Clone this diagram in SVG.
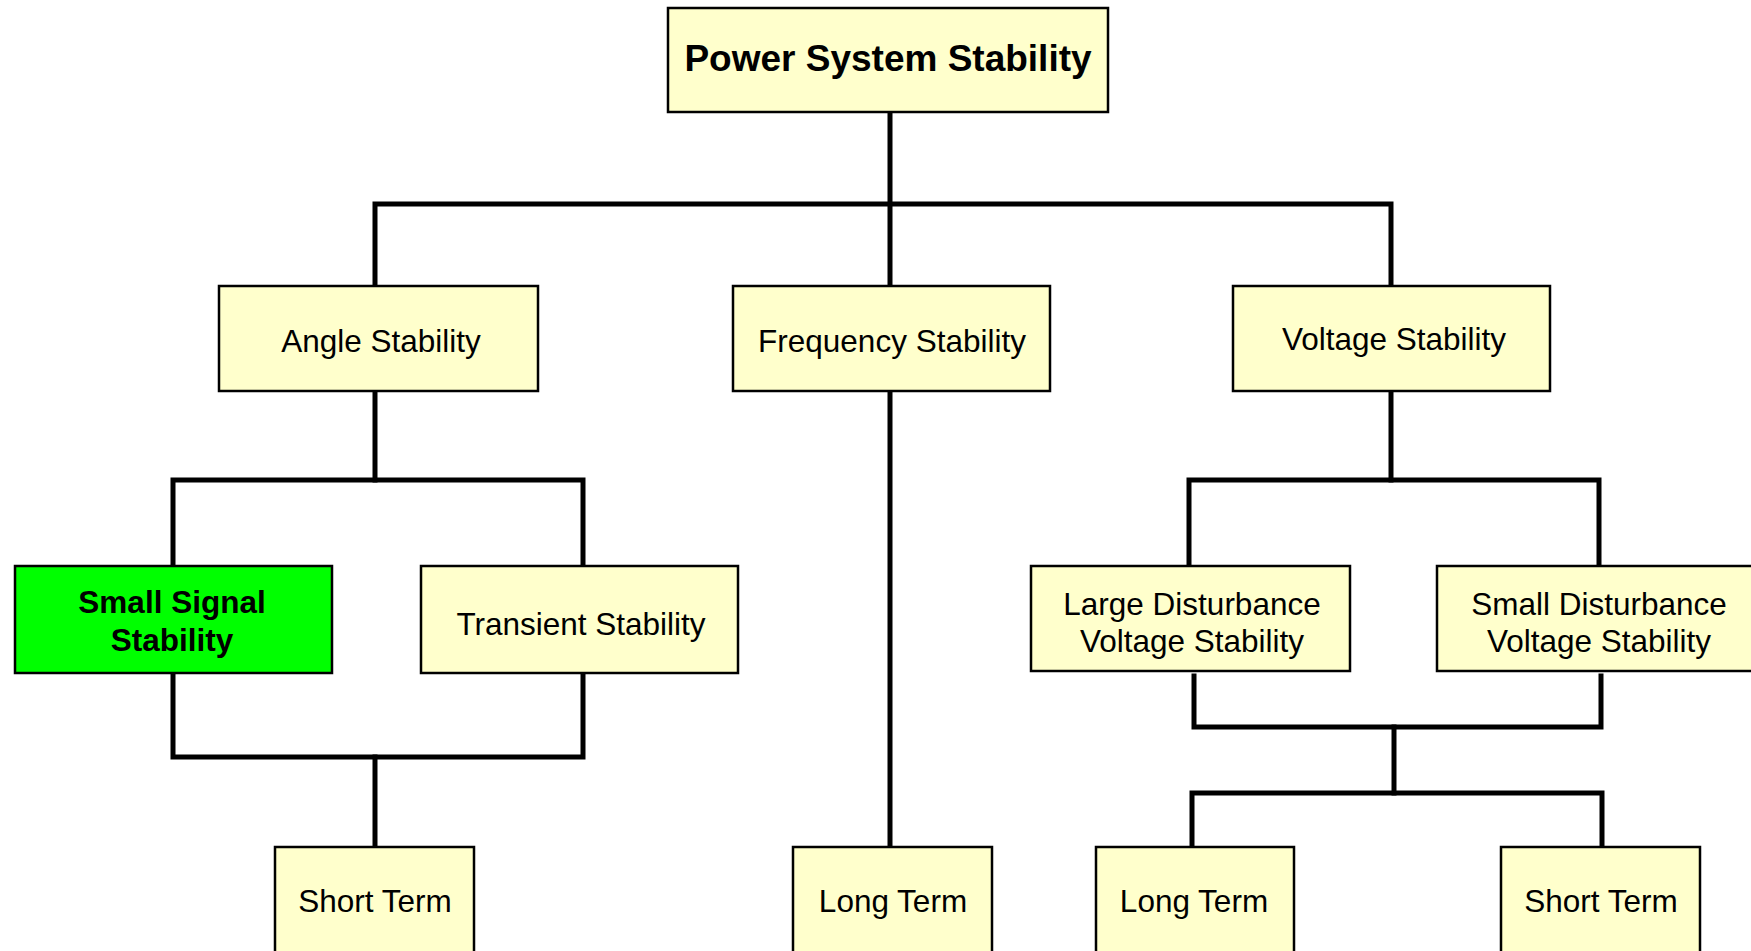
<svg xmlns="http://www.w3.org/2000/svg" width="1751" height="951" viewBox="0 0 1751 951">
<style>
.box{fill:#FFFFCC;stroke:#000;stroke-width:2.5}
.hl{fill:#00FF00;stroke:#000;stroke-width:2.5}
.t{font-family:"Liberation Sans",Arial,sans-serif;font-size:31.5px;fill:#000;text-anchor:middle}
.b{font-weight:bold}
.c{fill:none;stroke:#000;stroke-width:5;stroke-linecap:square;stroke-linejoin:miter}
</style>
<rect width="1751" height="951" fill="#fff"/>
<g id="connectors">
<path class="c" d="M890 112 V286"/>
<path class="c" d="M375 286 V204 H1391 V286"/>
<path class="c" d="M375 391 V480"/>
<path class="c" d="M173 565 V480 H583 V565"/>
<path class="c" d="M173 673 V757 H583 V673"/>
<path class="c" d="M375 757 V846"/>
<path class="c" d="M890 391 V846"/>
<path class="c" d="M1391 391 V480"/>
<path class="c" d="M1189 565 V480 H1599 V565"/>
<path class="c" d="M1194 676 V727 H1601 V676"/>
<path class="c" d="M1394 727 V793"/>
<path class="c" d="M1192 846 V793 H1602 V846"/>
</g>
<g id="power-system-stability">
<rect class="box" x="668" y="8" width="440" height="104"/>
<text class="t b" x="888" y="70.5" style="font-size:37px">Power System Stability</text>
</g>
<g id="angle-stability">
<rect class="box" x="219" y="286" width="319" height="105"/>
<text class="t" x="381" y="352">Angle Stability</text>
</g>
<g id="frequency-stability">
<rect class="box" x="733" y="286" width="317" height="105"/>
<text class="t" x="892" y="352">Frequency Stability</text>
</g>
<g id="voltage-stability">
<rect class="box" x="1233" y="286" width="317" height="105"/>
<text class="t" x="1394" y="350">Voltage Stability</text>
</g>
<g id="small-signal-stability">
<rect class="hl" x="15" y="566" width="317" height="107"/>
<text class="t b" x="172" y="612.5">Small Signal</text>
<text class="t b" x="172" y="651">Stability</text>
</g>
<g id="transient-stability">
<rect class="box" x="421" y="566" width="317" height="107"/>
<text class="t" x="581" y="635">Transient Stability</text>
</g>
<g id="large-disturbance-voltage-stability">
<rect class="box" x="1031" y="566" width="319" height="105"/>
<text class="t" x="1192" y="615">Large Disturbance</text>
<text class="t" x="1192" y="651.5">Voltage Stability</text>
</g>
<g id="small-disturbance-voltage-stability">
<rect class="box" x="1437" y="566" width="330" height="105"/>
<text class="t" x="1599" y="615">Small Disturbance</text>
<text class="t" x="1599" y="651.5">Voltage Stability</text>
</g>
<g id="short-term-angle">
<rect class="box" x="275" y="847" width="199" height="120"/>
<text class="t" x="375" y="911.5">Short Term</text>
</g>
<g id="long-term-frequency">
<rect class="box" x="793" y="847" width="199" height="120"/>
<text class="t" x="893" y="911.5">Long Term</text>
</g>
<g id="long-term-voltage">
<rect class="box" x="1096" y="847" width="198" height="120"/>
<text class="t" x="1194" y="911.5">Long Term</text>
</g>
<g id="short-term-voltage">
<rect class="box" x="1501" y="847" width="199" height="120"/>
<text class="t" x="1601" y="911.5">Short Term</text>
</g>
</svg>
